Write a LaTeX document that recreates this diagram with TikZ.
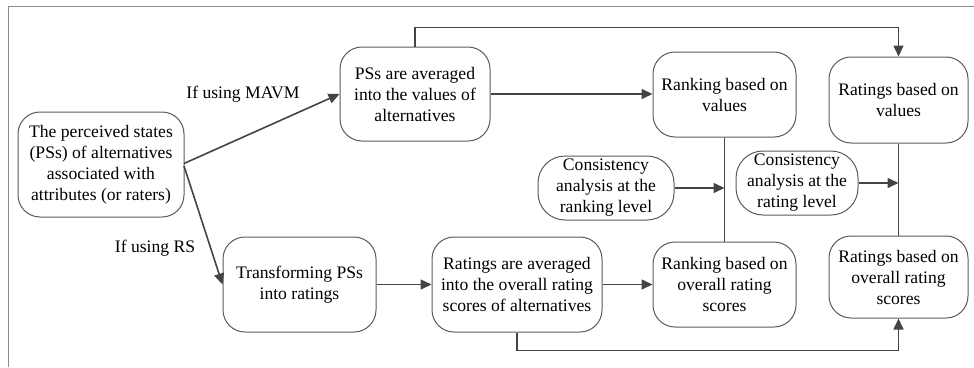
\documentclass[tikz,border=0pt]{standalone}
\usepackage{fontspec}
\setmainfont{Liberation Serif}
\usetikzlibrary{arrows.meta}
\definecolor{lncol}{HTML}{444444}
\definecolor{bxcol}{HTML}{5A5A5A}
\definecolor{frcol}{HTML}{8A8A8A}
\tikzset{
  box/.style={draw=bxcol, line width=1pt, rounded corners=22pt, align=center,
    inner sep=0pt, font=\fontsize{17.6}{21}\selectfont, text=black},
  cbox/.style={box, rounded corners=27pt},
  conn/.style={draw=lncol, line width=1.6pt, -{Triangle[length=11pt,width=10pt]}},
  plain/.style={draw=lncol, line width=1.6pt},
  lbl/.style={font=\fontsize{17.6}{21}\selectfont, text=black, inner sep=0pt}
}
\begin{document}
\begin{tikzpicture}[x=1pt,y=-1pt]
\useasboundingbox (0,0) rectangle (974,367);
\draw[frcol, line width=1pt] (8,367) -- (8,6.5) -- (974,6.5);

\node[box, minimum width=166pt, minimum height=105pt] (ps) at (101,164.5)
  {The perceived states\\(PSs) of alternatives\\associated with\\attributes (or raters)};
\node[box, minimum width=150pt, minimum height=94pt] (mavm) at (415,94)
  {PSs are averaged\\into the values of\\alternatives};
\node[box, minimum width=153pt, minimum height=95pt] (trans) at (299.5,284.5)
  {Transforming PSs\\into ratings};
\node[box, minimum width=170pt, minimum height=95pt] (ravg) at (517,284.5)
  {Ratings are averaged\\into the overall rating\\scores of alternatives};
\node[box, minimum width=143pt, minimum height=85pt] (rkv) at (724.5,94.5)
  {Ranking based on\\values};
\node[box, minimum width=143pt, minimum height=85pt] (rko) at (724.5,284.5)
  {Ranking based on\\overall rating\\scores};
\node[box, minimum width=139pt, minimum height=86pt] (rtv) at (898.5,100)
  {Ratings based on\\values};
\node[box, minimum width=139pt, minimum height=82pt] (rto) at (898.5,277)
  {Ratings based on\\overall rating\\scores};
\node[cbox, minimum width=136pt, minimum height=64pt] (crk) at (606,188)
  {Consistency\\analysis at the\\ranking level};
\node[cbox, minimum width=122pt, minimum height=64pt] (crt) at (797,183)
  {Consistency\\analysis at the\\rating level};

\coordinate (psa) at (184,163.5);
\coordinate (psb) at (184,166);
\draw[conn] (psa) -- (mavm.west);
\draw[conn] (psb) -- (trans.west);
\node[lbl] (lm) at (243,94) {If using MAVM};
\node[lbl] (lr) at (155,248) {If using RS};

\draw[conn] (mavm.east) -- (rkv.west |- mavm.east);
\draw[conn] (mavm.north) -- ++(0,-19) -| (rtv.north);
\draw[conn] (trans.east) -- (ravg.west);
\draw[conn] (ravg.east) -- (rko.west |- ravg.east);
\draw[conn] (ravg.south) -- ++(0,18) -| (rto.south);

\draw[plain] (rkv.south) -- (rko.north);
\draw[plain] (rtv.south) -- (rto.north);
\coordinate (jk) at (rkv.south |- crk.east);
\coordinate (jt) at (rtv.south |- crt.east);
\draw[conn] (crk.east) -- (jk);
\draw[conn] (crt.east) -- (jt);
\end{tikzpicture}
\end{document}
